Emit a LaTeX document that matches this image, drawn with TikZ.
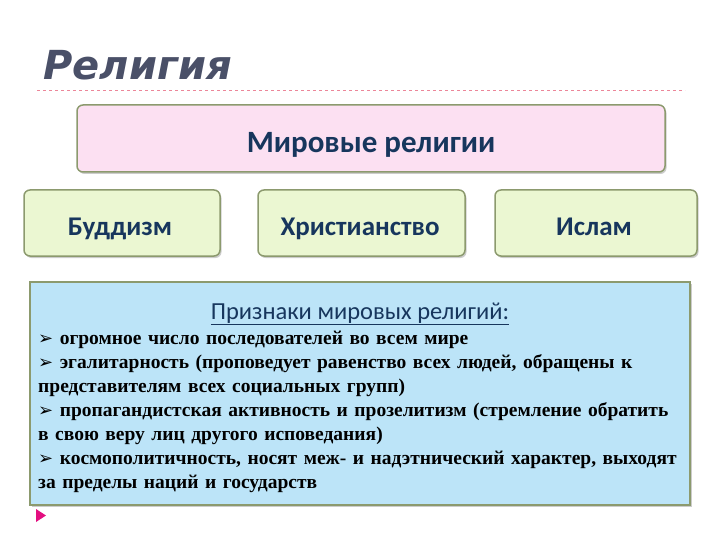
\documentclass[tikz,border=0pt]{standalone}
\usepackage{fontspec}
\setmainfont{Liberation Serif}
\newfontfamily\carl{Carlito}
\newfontfamily\heros{DejaVu Sans}
\usetikzlibrary{shadows}
\definecolor{pinkf}{HTML}{FCE0F2}
\definecolor{greenf}{HTML}{EBF7D2}
\definecolor{bluef}{HTML}{BCE4F8}
\definecolor{bord}{HTML}{8C9A6E}
\definecolor{navy}{HTML}{17365D}
\definecolor{ttl}{HTML}{4A5068}
\tikzset{
 tbox/.style={draw=bord,line width=1.5pt,rounded corners=6pt,drop shadow={shadow xshift=1.5pt,shadow yshift=-2pt,opacity=0.4}},
 lbl/.style={anchor=base,font=\carl\bfseries\fontsize{27}{30}\selectfont,text=navy}
}
\newcommand\arr{{\heros\bfseries\fontsize{18}{24}\selectfont ➢}}
\begin{document}
\begin{tikzpicture}[x=1pt,y=-1pt]
\useasboundingbox (0,0) rectangle (720,540);
\node[anchor=base west,font=\heros\bfseries\itshape\fontsize{40}{42}\selectfont,text=ttl] (title) at (40,80) {Религия};
\draw[dashed,draw=pink!70!purple,line width=0.5pt] (37,90) -- (685,90);
\draw[tbox,fill=pinkf] (77,105) rectangle (665,172);
\node[lbl,font=\carl\bfseries\fontsize{31}{34}\selectfont] (mir) at (371,153) {Мировые религии};
\draw[tbox,fill=greenf] (24,190) rectangle (220,256);
\draw[tbox,fill=greenf] (258,190) rectangle (465,256);
\draw[tbox,fill=greenf] (495,190) rectangle (697,256);
\node[lbl] (b) at (120,236) {Буддизм};
\node[lbl] (h) at (360,236) {Христианство};
\node[lbl] (i) at (594,236) {Ислам};
\draw[draw=bord,line width=1.5pt,fill=bluef,drop shadow={shadow xshift=1.5pt,shadow yshift=-2pt,opacity=0.4}] (30,282) rectangle (690,505);
\node[anchor=base,font=\carl\fontsize{24.5}{28}\selectfont,text=navy] (pr) at (360,319) {\underline{Признаки мировых религий:}};
\node[anchor=north west,align=left,text width=700pt,inner sep=0pt,font=\bfseries\fontsize{19.5}{24}\selectfont] (txt) at (38,331)
{\arr\ огромное число последователей во всем мире\\
\arr\ эгалитарность (проповедует равенство всех людей, обращены к\\
представителям всех социальных групп)\\
\arr\ пропагандистская активность и прозелитизм (стремление обратить\\
в свою веру лиц другого исповедания)\\
\arr\ космополитичность, носят меж- и надэтнический характер, выходят\\
за пределы наций и государств};
\fill[magenta!80!purple] (36,509) -- (46,515.5) -- (36,522) -- cycle;
\end{tikzpicture}
\end{document}
